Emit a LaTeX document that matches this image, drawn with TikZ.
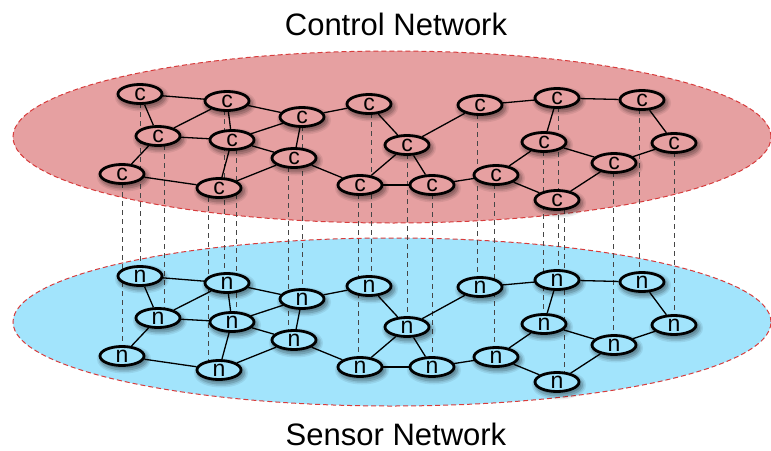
\documentclass[tikz,border=0pt]{standalone}
\usepackage{fontspec}
\setmainfont{Liberation Sans}
\usetikzlibrary{shapes.geometric}

\definecolor{ctrlfill}{RGB}{230,160,161}
\definecolor{sensfill}{RGB}{162,228,252}
\definecolor{rimred}{RGB}{215,60,60}
\definecolor{tiegray}{RGB}{70,70,70}

\pgfdeclarelayer{planes}
\pgfdeclarelayer{links}
\pgfsetlayers{planes,links,main}

\tikzset{
  softshadow/.style={
    preaction={draw=black, line width=10pt, opacity=0.07,
      transform canvas={xshift=2pt, yshift=-3pt}},
    preaction={draw=black, line width=7pt, opacity=0.09,
      transform canvas={xshift=2pt, yshift=-3pt}},
    preaction={draw=black, fill=black, line width=4pt, opacity=0.14,
      transform canvas={xshift=2pt, yshift=-3pt}}},
  netnode/.style={ellipse, draw=black, line width=2.8pt,
    minimum width=44pt, minimum height=19pt, inner sep=0pt,
    font=\fontsize{23}{23}\selectfont, softshadow},
  cnode/.style={netnode, fill=ctrlfill},
  snode/.style={netnode, fill=sensfill},
  planeedge/.style={draw=rimred, line width=1pt, dash pattern=on 5pt off 3pt},
  link/.style={black, line width=1.3pt},
  tie/.style={tiegray, line width=1pt, dash pattern=on 5pt off 4pt},
  title/.style={font=\fontsize{31}{31}\selectfont, anchor=base}
}

\begin{document}
\begin{tikzpicture}[x=1pt, y=-1pt]
  \useasboundingbox (0,0) rectangle (771,450);

  % the two network planes
  \begin{pgfonlayer}{planes}
    \draw[planeedge, fill=ctrlfill] (392,137) ellipse [x radius=379pt, y radius=86pt];
    \draw[planeedge, fill=sensfill] (392,322) ellipse [x radius=379pt, y radius=84pt];
  \end{pgfonlayer}

  % controller nodes and their sensor counterparts (182 below)
  \foreach \i/\x/\y in {
      1/140/94, 2/227/101, 3/158/136, 4/232/140, 5/122/174,
      6/219/188, 7/302/117, 8/294/158, 9/369/104, 10/407/145,
      11/360/185, 12/432/185, 13/480/105, 14/496/175, 15/557/98,
      16/544/142, 17/557/200, 18/642/100, 19/614/163, 20/674/143} {
    \node[cnode] (c\i) at (\x,\y) {c};
    \node[snode] (n\i) at (\x,\y+182) {n};
  }

  \begin{pgfonlayer}{links}
    % vertical ties between each controller and its sensor
    \foreach \i/\d in {
        1/0, 2/-3, 3/6, 4/4, 5/0, 6/-11, 7/0, 8/-6, 9/2, 10/0,
        11/-2, 12/0, 13/-3, 14/-2, 15/1, 16/-1, 17/7, 18/-3, 19/-1, 20/0} {
      \draw[tie] ([xshift=\d pt]c\i.center) -- ([xshift=\d pt]n\i.center);
    }
    % links inside each network
    \foreach \a/\b in {
        1/2, 1/3, 2/3, 3/5, 3/4, 2/4, 2/7, 4/7, 4/8, 7/8,
        4/6, 5/6, 6/8, 8/11, 7/9, 9/10, 10/11, 10/12, 11/12, 10/13,
        12/14, 13/15, 14/16, 14/17, 15/16, 15/18, 16/19, 17/19, 18/20, 19/20} {
      \draw[link] (c\a) -- (c\b);
      \draw[link] (n\a) -- (n\b);
    }
  \end{pgfonlayer}

  \node[title] (ctitle) at (396,35) {Control Network};
  \node[title] (stitle) at (396,445) {Sensor Network};
\end{tikzpicture}
\end{document}
